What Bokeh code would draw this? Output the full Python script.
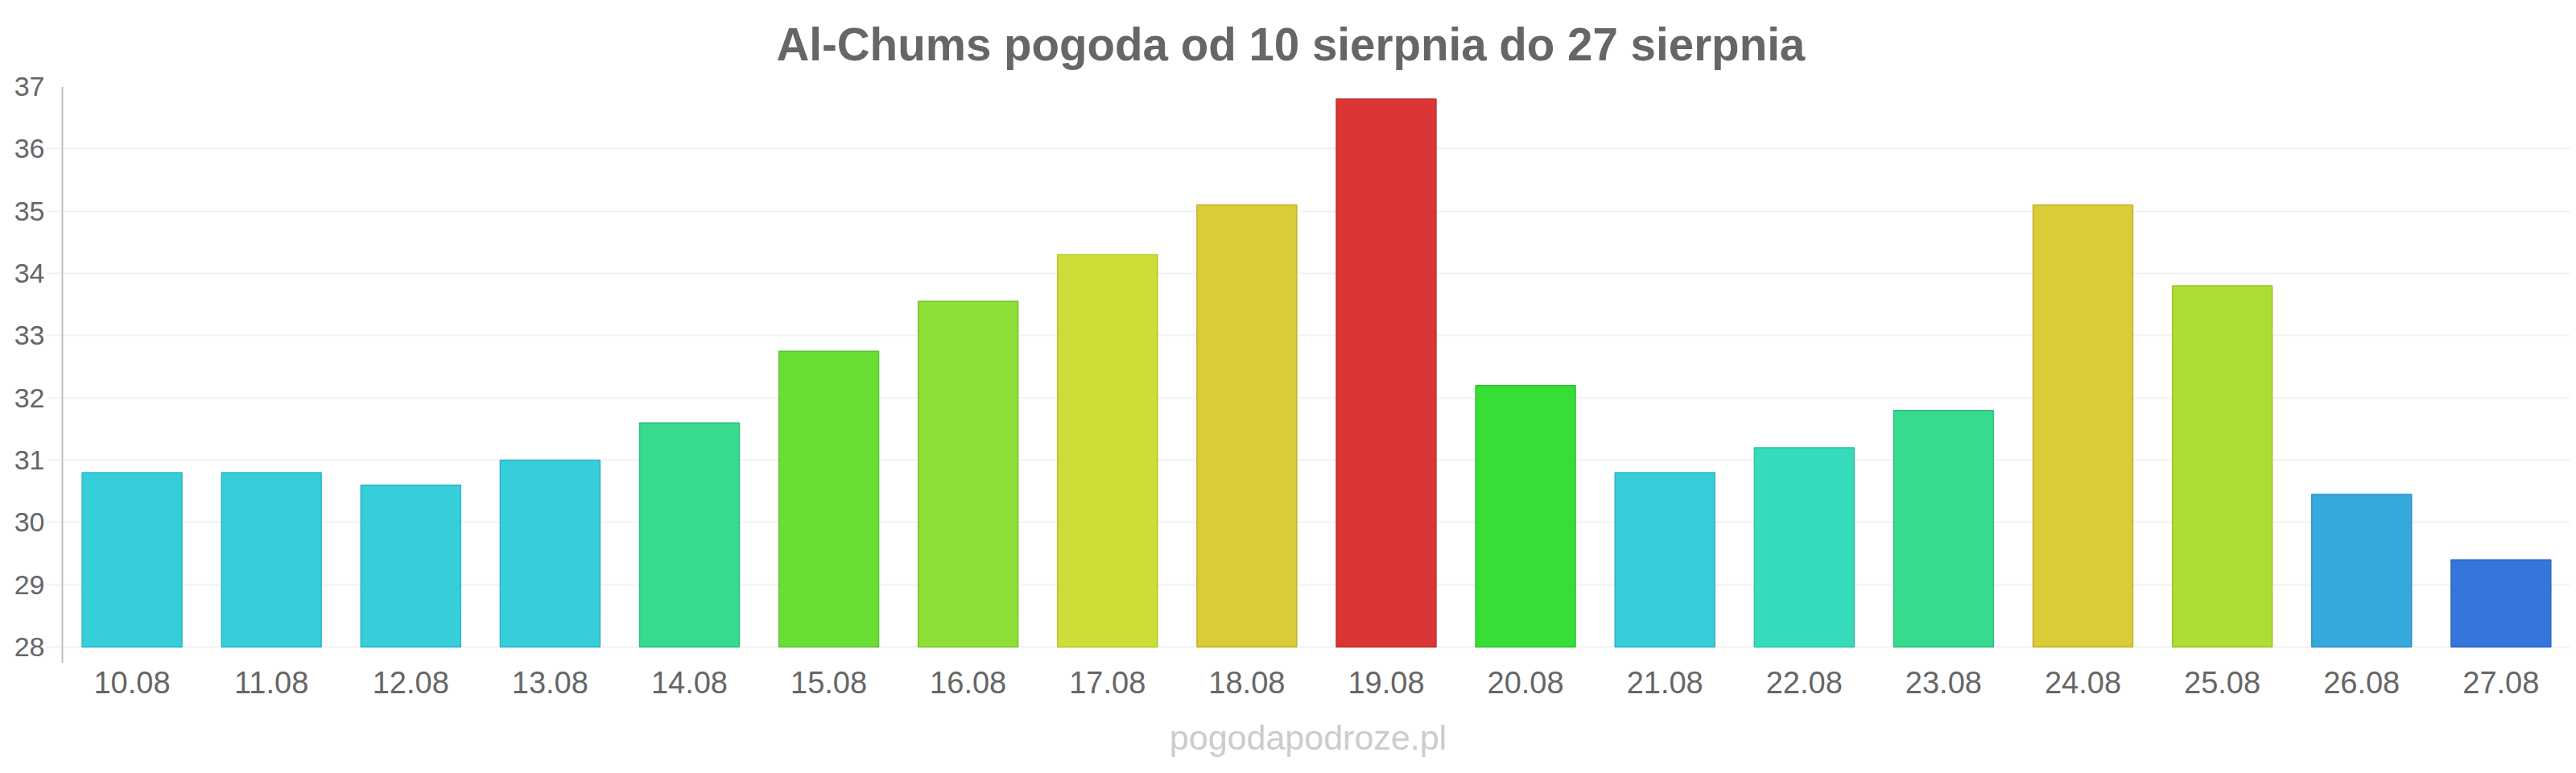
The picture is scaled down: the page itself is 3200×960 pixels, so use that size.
from bokeh.plotting import figure
from bokeh.models import Range1d, FixedTicker, Span, ColumnDataSource
from bokeh.embed import file_html
from bokeh.resources import INLINE

# ---- data ----
dates = ["10.08", "11.08", "12.08", "13.08", "14.08", "15.08", "16.08", "17.08", "18.08",
         "19.08", "20.08", "21.08", "22.08", "23.08", "24.08", "25.08", "26.08", "27.08"]
temps = [30.8, 30.8, 30.6, 31.0, 31.6, 32.75, 33.55, 34.3, 35.1,
         36.8, 32.2, 30.8, 31.2, 31.8, 35.1, 33.8, 30.45, 29.4]
colors = ["#36cedb", "#36cedb", "#36cedb", "#36cedb", "#36db8e", "#6bde36", "#8dde36", "#cede36", "#dbcb36",
          "#db3636", "#36de36", "#36cedb", "#36dbbc", "#36db8e", "#dbcb36", "#aede33", "#36a8db", "#3675db"]
y_ticks = [28, 29, 30, 31, 32, 33, 34, 35, 36, 37]
title_text = "Al-Chums pogoda od 10 sierpnia do 27 sierpnia"
credit_text = "pogodapodroze.pl"


def darker(h, f=0.88):
    h = h.lstrip("#")
    r, g, b = (int(h[i:i + 2], 16) for i in (0, 2, 4))
    return "#%02x%02x%02x" % (int(r * f), int(g * f), int(b * f))


xs = [i + 0.5 for i in range(len(dates))]
src = ColumnDataSource(dict(x=xs, top=temps, fill=colors, line=[darker(c) for c in colors]))

FONT = "Liberation Sans"
p = figure(width=3192, height=950,
           x_range=Range1d(-0.1155, 17.995), y_range=Range1d(27.742, 37),
           output_backend="svg", toolbar_location=None,
           min_border_left=57, min_border_right=0, min_border_top=106, min_border_bottom=127)
p.outline_line_color = None
p.background_fill_color = "white"

p.title.text = title_text
p.title.align = "left"
p.title.offset = 907
p.title.standoff = 42
p.title.text_font = FONT
p.title.text_font_size = "56.5px"
p.title.text_font_style = "bold"
p.title.text_color = "#666666"

p.vbar(x="x", width=0.716, bottom=28, top="top", fill_color="fill", line_color="line",
       line_width=1.5, source=src)

# axes
xa = p.xaxis[0]
xa.ticker = FixedTicker(ticks=xs)
xa.major_label_overrides = {x: d for x, d in zip(xs, dates)}
xa.axis_line_color = None
xa.major_tick_line_color = None
xa.minor_tick_line_color = None
xa.major_label_text_font = FONT
xa.major_label_text_font_size = "38px"
xa.major_label_text_color = "#666666"
xa.major_label_standoff = 4
# site credit shown under the category labels
xa.axis_label = credit_text
xa.axis_label_text_font = FONT
xa.axis_label_text_font_size = "43px"
xa.axis_label_text_font_style = "normal"
xa.axis_label_text_color = "#cccccc"
xa.axis_label_standoff = 28

ya = p.yaxis[0]
ya.ticker = FixedTicker(ticks=y_ticks)
ya.axis_line_color = None
ya.major_tick_line_color = None
ya.minor_tick_line_color = None
ya.major_tick_out = 0
ya.major_label_standoff = 2
ya.major_label_text_font = FONT
ya.major_label_text_font_size = "34px"
ya.major_label_text_color = "#666666"

p.xgrid.grid_line_color = None
p.ygrid.grid_line_color = "#f2f2f2"
p.ygrid.grid_line_width = 2

p.add_layout(Span(location=0, dimension="height", line_color="#c0c0c0", line_width=2))

open("out.html", "w").write(file_html(p, INLINE))
